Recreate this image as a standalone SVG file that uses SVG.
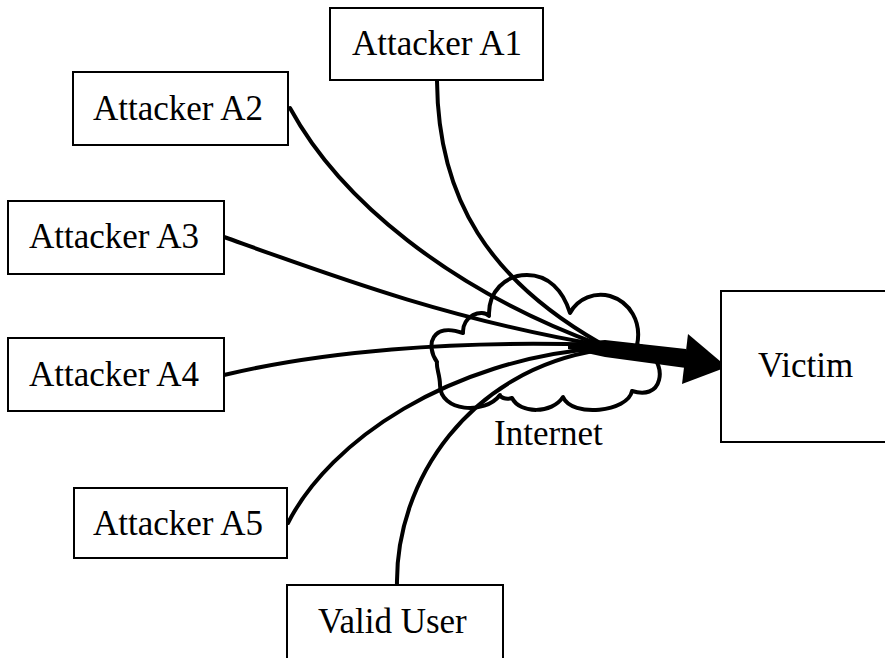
<svg xmlns="http://www.w3.org/2000/svg" width="885" height="658" viewBox="0 0 885 658">
<style>
.box{fill:#fff;stroke:#000;stroke-width:2}
.lbl{font-family:"Liberation Serif","Times New Roman",serif;font-size:35px;fill:#000}
.con{fill:none;stroke:#000;stroke-width:4;stroke-linecap:round}
.cloud{fill:#fff;stroke:#000;stroke-width:4;stroke-linejoin:round}
</style>
<rect width="885" height="658" fill="#fff"/>
<g id="internet">
<path class="cloud" d="M437,362 C425,345 432,322 463,333 C462,316 482,308 489,316 C488,292 505,275 527,275 C548,275 563,290 570,313 C578,298 595,292 610,296 C630,302 642,322 637,345 C650,348 663,365 659,380 C656,392 645,395 632,391 C628,412 572,418 563,397 C552,414 520,414 512,398 C505,400 500,397 500,395 C485,415 440,412 440,385 C440,375 436,368 437,362 Z"/>
<text class="lbl" x="494" y="445">Internet</text>
</g>
<g id="connectors">
<path class="con" d="M437,81 C438,200 490,280 600,343"/>
<path class="con" d="M290,108 C340,200 450,290 600,345"/>
<path class="con" d="M224,237 C330,275 450,320 600,345"/>
<path class="con" d="M224,375 C320,352 450,340 600,345"/>
<path class="con" d="M288,523 C330,440 450,360 600,348"/>
<path class="con" d="M397,586 C395,480 470,370 600,350"/>
<path d="M568,343 L605,340 L686,349 L686,368 L605,357 L568,349 Z" fill="#000"/>
<polygon points="688,334 727,367 682,384" fill="#000"/>
</g>
<g id="a1"><rect class="box" x="330" y="8" width="213" height="72"/><text class="lbl" x="352" y="55">Attacker A1</text></g>
<g id="a2"><rect class="box" x="73" y="72" width="215" height="73"/><text class="lbl" x="93" y="120">Attacker A2</text></g>
<g id="a3"><rect class="box" x="8" y="201" width="216" height="73"/><text class="lbl" x="29" y="248">Attacker A3</text></g>
<g id="a4"><rect class="box" x="8" y="338" width="216" height="73"/><text class="lbl" x="29" y="386">Attacker A4</text></g>
<g id="a5"><rect class="box" x="74" y="488" width="213" height="70"/><text class="lbl" x="93" y="535">Attacker A5</text></g>
<g id="valid-user"><rect class="box" x="287" y="585" width="216" height="100"/><text class="lbl" x="318" y="633">Valid User</text></g>
<g id="victim"><rect class="box" x="721" y="291" width="200" height="151"/><text class="lbl" x="758" y="377">Victim</text></g>
</svg>
